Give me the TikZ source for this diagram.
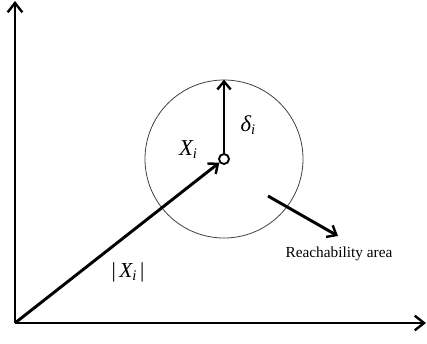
\documentclass[tikz,border=0pt]{standalone}
\usepackage{fontspec}
\setmainfont{Liberation Serif}
\usetikzlibrary{arrows.meta}
\begin{document}
\begin{tikzpicture}[x=0.75pt,y=-0.75pt,
  axis/.style={line width=2.2pt,-{Straight Barb[length=7pt,width=11pt,line width=1.8pt]}},
  vec/.style={line width=2.2pt,-{Straight Barb[length=6pt,width=10pt,line width=1.8pt]}},
  lbl/.style={inner sep=0pt,font=\fontsize{17}{17}\selectfont\itshape}]
\useasboundingbox (0,0) rectangle (427,343);
\coordinate (O) at (15,323);
\coordinate (Ytop) at (15,1);
\coordinate (Xend) at (426,323);
\draw[axis] (O) -- (Ytop);
\draw[axis] (O) -- (Xend);
\node[circle,draw=black!75,line width=0.6pt,minimum size=158pt*0.75,inner sep=0pt] (R) at (224,159) {};
\node[circle,draw,line width=1.4pt,minimum size=7.5pt,inner sep=0pt,fill=white] (C) at (224,159) {};
\draw[vec] (C) -- (R.north);
\draw[vec] (O) -- (C);
\coordinate (A1) at (268,196);
\coordinate (A2) at (338,236);
\draw[vec] (A1) -- (A2);
\node[lbl] (xi) at (188,150) {X\raisebox{-0.3ex}{\fontsize{11}{11}\selectfont i}};
\node[lbl] (di) at (248,125) {δ\raisebox{-0.3ex}{\fontsize{11}{11}\selectfont i}};
\node[inner sep=0pt,font=\fontsize{16}{16}\selectfont] (mx) at (128,272) {|\,\textit{X\raisebox{-0.3ex}{\fontsize{11}{11}\selectfont i}}\,|};
\node[inner sep=0pt,font=\fontsize{11.5}{11.5}\selectfont] (ra) at (339,254) {Reachability area};
\end{tikzpicture}
\end{document}
